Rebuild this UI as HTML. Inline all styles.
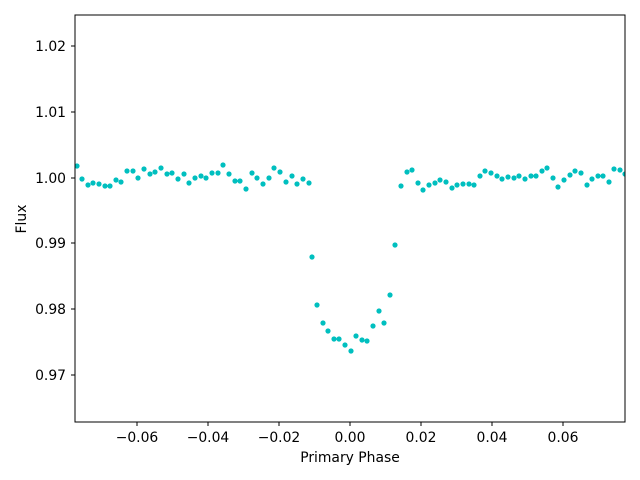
<!DOCTYPE html>
<html><head><meta charset="utf-8"><style>body{margin:0;background:#fff}svg{display:block}text{font-family:"DejaVu Sans","Liberation Sans",sans-serif;font-size:13.9px;fill:#000}</style></head><body>
<svg width="640" height="480" xmlns="http://www.w3.org/2000/svg">
<defs><clipPath id="c"><rect x="75" y="15" width="550" height="407"/></clipPath></defs>
<g clip-path="url(#c)" fill="#00bfbf">
<circle cx="77" cy="166" r="2.6"/><circle cx="82" cy="179" r="2.6"/><circle cx="88" cy="185" r="2.6"/><circle cx="93" cy="183" r="2.6"/><circle cx="99" cy="184" r="2.6"/><circle cx="105" cy="186" r="2.6"/><circle cx="110" cy="186" r="2.6"/><circle cx="116" cy="180" r="2.6"/><circle cx="121" cy="182" r="2.6"/><circle cx="127" cy="171" r="2.6"/><circle cx="133" cy="171" r="2.6"/><circle cx="138" cy="178" r="2.6"/><circle cx="144" cy="169" r="2.6"/><circle cx="150" cy="174" r="2.6"/><circle cx="155" cy="172" r="2.6"/><circle cx="161" cy="168" r="2.6"/><circle cx="167" cy="174" r="2.6"/><circle cx="172" cy="173" r="2.6"/><circle cx="178" cy="179" r="2.6"/><circle cx="184" cy="174" r="2.6"/><circle cx="189" cy="183" r="2.6"/><circle cx="195" cy="178" r="2.6"/><circle cx="201" cy="176" r="2.6"/><circle cx="206" cy="178" r="2.6"/><circle cx="212" cy="173" r="2.6"/><circle cx="218" cy="173" r="2.6"/><circle cx="223" cy="165" r="2.6"/><circle cx="229" cy="174" r="2.6"/><circle cx="235" cy="181" r="2.6"/><circle cx="240" cy="181" r="2.6"/><circle cx="246" cy="189" r="2.6"/><circle cx="252" cy="173" r="2.6"/><circle cx="257" cy="178" r="2.6"/><circle cx="263" cy="184" r="2.6"/><circle cx="269" cy="178" r="2.6"/><circle cx="274" cy="168" r="2.6"/><circle cx="280" cy="172" r="2.6"/><circle cx="286" cy="182" r="2.6"/><circle cx="292" cy="176" r="2.6"/><circle cx="297" cy="184" r="2.6"/><circle cx="303" cy="179" r="2.6"/><circle cx="309" cy="183" r="2.6"/>
<circle cx="312" cy="257" r="2.6"/><circle cx="317" cy="305" r="2.6"/><circle cx="323" cy="323" r="2.6"/><circle cx="328" cy="331" r="2.6"/><circle cx="334" cy="339" r="2.6"/><circle cx="339" cy="339" r="2.6"/><circle cx="345" cy="345" r="2.6"/><circle cx="351" cy="351" r="2.6"/><circle cx="356" cy="336" r="2.6"/><circle cx="362" cy="340" r="2.6"/><circle cx="367" cy="341" r="2.6"/><circle cx="373" cy="326" r="2.6"/><circle cx="379" cy="311" r="2.6"/><circle cx="384" cy="323" r="2.6"/><circle cx="390" cy="295" r="2.6"/><circle cx="395" cy="245" r="2.6"/>
<circle cx="401" cy="186" r="2.6"/><circle cx="407" cy="172" r="2.6"/><circle cx="412" cy="170" r="2.6"/><circle cx="418" cy="183" r="2.6"/><circle cx="423" cy="190" r="2.6"/><circle cx="429" cy="185" r="2.6"/><circle cx="435" cy="183" r="2.6"/><circle cx="440" cy="180" r="2.6"/><circle cx="446" cy="182" r="2.6"/><circle cx="452" cy="188" r="2.6"/><circle cx="457" cy="185" r="2.6"/><circle cx="463" cy="184" r="2.6"/><circle cx="469" cy="184" r="2.6"/><circle cx="474" cy="185" r="2.6"/><circle cx="480" cy="176" r="2.6"/><circle cx="485" cy="171" r="2.6"/><circle cx="491" cy="173" r="2.6"/><circle cx="497" cy="176" r="2.6"/><circle cx="502" cy="179" r="2.6"/><circle cx="508" cy="177" r="2.6"/><circle cx="514" cy="178" r="2.6"/><circle cx="519" cy="176" r="2.6"/><circle cx="525" cy="179" r="2.6"/><circle cx="531" cy="176" r="2.6"/><circle cx="536" cy="176" r="2.6"/><circle cx="542" cy="171" r="2.6"/><circle cx="547" cy="168" r="2.6"/><circle cx="553" cy="178" r="2.6"/><circle cx="558" cy="187" r="2.6"/><circle cx="564" cy="180" r="2.6"/><circle cx="570" cy="175" r="2.6"/><circle cx="575" cy="171" r="2.6"/><circle cx="581" cy="173" r="2.6"/><circle cx="587" cy="185" r="2.6"/><circle cx="592" cy="179" r="2.6"/><circle cx="598" cy="176" r="2.6"/><circle cx="603" cy="176" r="2.6"/><circle cx="609" cy="182" r="2.6"/><circle cx="614" cy="169" r="2.6"/><circle cx="620" cy="170" r="2.6"/><circle cx="625" cy="174" r="2.6"/>
</g>
<rect x="75" y="15" width="550" height="407" fill="none" stroke="#000" stroke-width="1"/>
<g stroke="#000" stroke-width="1">
<line x1="137" y1="422" x2="137" y2="426"/><line x1="208" y1="422" x2="208" y2="426"/><line x1="279" y1="422" x2="279" y2="426"/><line x1="350" y1="422" x2="350" y2="426"/><line x1="421" y1="422" x2="421" y2="426"/><line x1="492" y1="422" x2="492" y2="426"/><line x1="563" y1="422" x2="563" y2="426"/>
<line x1="71" y1="46" x2="75" y2="46"/><line x1="71" y1="112" x2="75" y2="112"/><line x1="71" y1="178" x2="75" y2="178"/><line x1="71" y1="243" x2="75" y2="243"/><line x1="71" y1="309" x2="75" y2="309"/><line x1="71" y1="375" x2="75" y2="375"/>
</g>
<g text-anchor="middle">
<text x="137" y="442">−0.06</text><text x="208" y="442">−0.04</text><text x="279" y="442">−0.02</text><text x="350" y="442">0.00</text><text x="421" y="442">0.02</text><text x="492" y="442">0.04</text><text x="563" y="442">0.06</text>
<text x="350" y="462">Primary Phase</text>
</g>
<g text-anchor="end">
<text x="66" y="51">1.02</text><text x="66" y="117">1.01</text><text x="66" y="183">1.00</text><text x="66" y="248">0.99</text><text x="66" y="314">0.98</text><text x="66" y="380">0.97</text>
</g>
<text x="26" y="219" text-anchor="middle" transform="rotate(-90 26 219)">Flux</text>
</svg>
</body></html>
